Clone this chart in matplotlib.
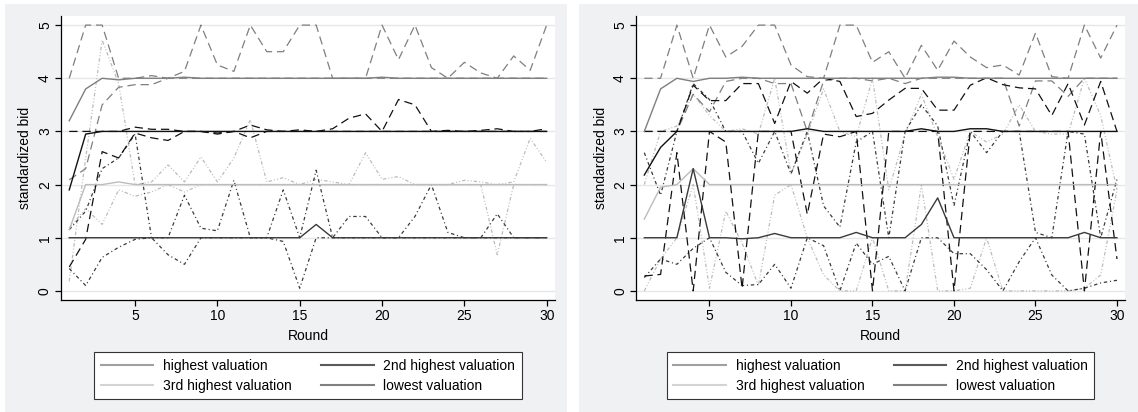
import matplotlib
matplotlib.use("Agg")
import matplotlib.pyplot as plt
from matplotlib.lines import Line2D
from matplotlib.patches import Rectangle

plt.rcParams['font.family'] = ['Liberation Sans', 'DejaVu Sans']
plt.rcParams['font.size'] = 10
plt.rcParams['lines.scale_dashes'] = False

rounds = list(range(1, 31))

# left panel: median, upper and lower bids per valuation rank
L_high_med = [3.2, 3.8, 4.0, 3.97, 4.0, 4.0, 4.0, 4.02, 4.0, 4.0, 4.0, 4.0, 4.0, 4.0, 4.0,
              4.0, 4.0, 4.0, 4.0, 4.02, 4.0, 4.0, 4.0, 4.0, 4.0, 4.0, 4.0, 4.0, 4.0, 4.0]
L_high_up = [4.0, 5.0, 5.0, 4.0, 4.0, 4.05, 4.0, 4.13, 5.0, 4.25, 4.13, 5.0, 4.5, 4.5, 5.0,
             5.0, 4.0, 4.0, 4.0, 5.0, 4.35, 5.0, 4.2, 4.0, 4.3, 4.1, 4.0, 4.42, 4.15, 5.0]
L_high_lo = [2.09, 2.3, 3.5, 3.83, 3.88, 3.88, 4.0, 4.0, 4.0, 4.0, 4.0, 4.0, 4.0, 4.0, 4.0,
             4.0, 4.0, 4.0, 4.0, 4.0, 4.0, 4.0, 4.0, 4.0, 4.0, 4.0, 4.0, 4.0, 4.0, 4.0]
L_2nd_med = [1.9, 2.95, 3.0, 3.0, 3.0, 3.0, 3.0, 3.0, 3.0, 3.0, 3.0, 3.0, 3.0, 3.0, 3.0,
             3.0, 3.0, 3.0, 3.0, 3.0, 3.0, 3.0, 3.0, 3.0, 3.0, 3.0, 3.0, 3.0, 3.0, 3.0]
L_2nd_up = [3.0, 3.0, 3.0, 3.0, 3.08, 3.04, 3.04, 3.0, 3.0, 2.97, 3.0, 3.12, 3.03, 3.0, 3.03,
            3.0, 3.05, 3.25, 3.33, 3.0, 3.6, 3.5, 3.0, 3.02, 3.0, 3.02, 3.05, 3.0, 3.0, 3.05]
L_2nd_lo = [0.45, 0.97, 2.62, 2.5, 2.97, 2.88, 2.83, 3.0, 3.0, 2.95, 3.0, 2.88, 3.0, 3.0, 3.0,
            3.0, 3.0, 3.0, 3.0, 3.0, 3.0, 3.0, 3.0, 3.0, 3.0, 3.0, 3.0, 3.0, 3.0, 3.0]
L_3rd_med = [1.15, 2.0, 2.0, 2.05, 2.0, 2.0, 2.0, 2.0, 2.0, 2.0, 2.0, 2.0, 2.0, 2.0, 2.0,
             2.0, 2.0, 2.0, 2.0, 2.0, 2.0, 2.0, 2.0, 2.0, 2.0, 2.0, 2.0, 2.0, 2.0, 2.0]
L_3rd_up = [0.18, 2.5, 4.72, 3.9, 2.0, 2.05, 2.37, 2.05, 2.52, 2.05, 2.5, 3.22, 2.05, 2.13, 2.0,
            2.1, 2.05, 2.0, 2.6, 2.1, 2.15, 2.0, 2.0, 2.0, 2.08, 2.05, 2.0, 2.05, 2.87, 2.42]
L_3rd_lo = [1.18, 1.55, 1.25, 1.9, 1.78, 1.86, 2.0, 1.86, 2.0, 2.0, 2.0, 2.0, 2.0, 2.0, 2.0,
            2.0, 2.0, 2.0, 2.0, 2.0, 2.0, 2.0, 2.0, 2.0, 2.0, 2.0, 0.68, 2.0, 2.0, 2.0]
L_low_med = [1.0, 1.0, 1.0, 1.0, 1.0, 1.0, 1.0, 1.0, 1.0, 1.0, 1.0, 1.0, 1.0, 1.0, 1.0,
             1.25, 1.0, 1.0, 1.0, 1.0, 1.0, 1.0, 1.0, 1.0, 1.0, 1.0, 1.0, 1.0, 1.0, 1.0]
L_low_up = [1.15, 1.5, 2.3, 2.5, 2.95, 1.0, 1.0, 1.8, 1.18, 1.13, 2.08, 1.0, 1.0, 1.9, 1.0,
            2.27, 1.0, 1.4, 1.4, 1.0, 1.0, 1.4, 2.0, 1.1, 1.0, 1.0, 1.45, 1.0, 1.0, 1.0]
L_low_lo = [0.42, 0.1, 0.63, 0.82, 0.97, 1.0, 0.68, 0.5, 1.0, 1.0, 1.0, 1.0, 1.0, 0.93, 0.05,
            1.0, 1.0, 1.0, 1.0, 1.0, 1.0, 1.0, 1.0, 1.0, 1.0, 1.0, 1.0, 1.0, 1.0, 1.0]

# right panel
R_high_med = [3.0, 3.8, 4.0, 3.94, 4.0, 4.0, 4.02, 4.0, 4.0, 4.0, 4.0, 4.0, 4.0, 4.0, 4.0,
              4.0, 4.0, 4.0, 4.02, 4.02, 4.0, 4.0, 4.0, 4.0, 4.0, 4.0, 4.0, 4.0, 4.0, 4.0]
R_high_up = [4.0, 4.0, 5.0, 4.0, 5.0, 4.4, 4.6, 5.0, 5.0, 4.25, 4.03, 4.0, 5.0, 5.0, 4.3,
             4.5, 4.0, 4.62, 4.15, 4.7, 4.4, 4.2, 4.25, 4.06, 4.85, 4.03, 4.0, 5.0, 4.38, 5.0]
R_high_lo = [3.0, 3.0, 3.0, 3.7, 3.37, 3.94, 4.0, 4.0, 3.9, 3.9, 3.0, 3.95, 4.0, 4.0, 3.95,
             4.0, 3.9, 4.0, 4.0, 4.0, 4.0, 4.0, 4.0, 3.1, 3.95, 3.95, 3.66, 4.0, 4.0, 4.0]
R_2nd_med = [2.18, 2.7, 3.0, 3.0, 3.0, 3.0, 3.0, 3.0, 3.0, 3.0, 3.05, 3.0, 3.0, 3.0, 3.0,
             3.0, 3.0, 3.05, 3.0, 3.0, 3.05, 3.05, 3.0, 3.0, 3.0, 3.0, 3.0, 3.0, 3.0, 3.0]
R_2nd_up = [3.0, 3.0, 3.0, 3.87, 3.58, 3.58, 3.9, 3.9, 3.15, 3.94, 3.72, 4.0, 3.94, 3.28, 3.34,
            3.59, 3.81, 3.81, 3.4, 3.4, 3.87, 4.01, 3.88, 3.82, 3.8, 3.3, 3.9, 3.12, 3.94, 3.0]
R_2nd_lo = [0.28, 0.31, 2.6, 0.0, 3.0, 2.8, 0.05, 3.0, 3.0, 3.0, 1.44, 2.95, 2.9, 3.0, 0.0,
            3.0, 3.0, 3.0, 3.0, 0.0, 3.0, 3.0, 3.0, 3.0, 3.0, 3.0, 3.0, 0.0, 3.0, 0.6]
R_3rd_med = [1.35, 1.95, 2.0, 2.3, 2.0, 2.0, 2.0, 2.0, 2.0, 2.0, 2.0, 2.0, 2.0, 2.0, 2.0,
             2.0, 2.0, 2.0, 2.0, 2.0, 2.0, 2.0, 2.0, 2.0, 2.0, 2.0, 2.0, 2.0, 2.0, 2.0]
R_3rd_up = [2.0, 3.0, 3.1, 3.7, 3.3, 3.0, 3.05, 2.95, 4.0, 2.2, 2.95, 3.8, 3.0, 2.9, 4.0,
            1.9, 2.95, 3.7, 2.9, 2.1, 3.0, 2.8, 2.95, 3.5, 3.0, 2.95, 2.95, 4.0, 3.3, 1.9]
R_3rd_lo = [0.0, 0.6, 1.0, 2.0, 0.05, 1.5, 0.9, 0.1, 1.8, 2.0, 1.0, 0.3, 0.0, 0.0, 1.0,
            0.0, 0.0, 2.0, 0.0, 0.0, 0.05, 1.0, 0.0, 0.0, 0.0, 0.0, 0.0, 0.05, 0.3, 1.9]
R_low_med = [1.0, 1.0, 1.0, 2.3, 1.0, 1.0, 0.98, 1.0, 1.08, 1.0, 1.0, 1.0, 1.0, 1.1, 1.0,
             1.0, 1.0, 1.25, 1.75, 1.0, 1.0, 1.0, 1.0, 1.0, 1.0, 1.0, 1.0, 1.1, 1.0, 1.0]
R_low_up = [2.6, 1.8, 3.0, 3.9, 3.6, 3.0, 3.0, 2.4, 3.0, 2.2, 3.0, 1.6, 1.2, 2.8, 3.0,
            1.0, 3.0, 3.5, 3.1, 1.6, 3.0, 2.6, 3.0, 3.0, 1.1, 1.0, 3.0, 2.95, 1.0, 2.1]
R_low_lo = [0.25, 0.6, 0.5, 0.8, 1.0, 0.35, 0.1, 0.12, 0.5, 0.05, 1.0, 0.85, 0.0, 0.9, 0.5,
            0.65, 0.0, 1.0, 1.0, 0.7, 0.7, 0.4, 0.0, 0.55, 1.0, 0.3, 0.0, 0.05, 0.15, 0.2]

names = ["highest valuation", "2nd highest valuation", "3rd highest valuation", "lowest valuation"]
colors = ['#7f7f7f', '#111111', '#bcbcbc', '#3a3a3a']
legend_colors = ['#a0a0a0', '#5a5a5a', '#d4d4d4', '#808080']
band_styles = [(0, (6, 3.5)), (0, (6, 3.5)),
               (0, (2.5, 1.5, 0.7, 1.5, 0.7, 1.5)), (0, (2.5, 2, 0.8, 2))]


def draw_panel(ax, meds, ups, los):
    # bands first (dotted ones at the bottom), then medians on top
    for i in [2, 3, 0, 1]:
        ax.plot(rounds, ups[i], color=colors[i], ls=band_styles[i], lw=0.9)
        ax.plot(rounds, los[i], color=colors[i], ls=band_styles[i], lw=0.9)
    for i in range(4):
        ax.plot(rounds, meds[i], color=colors[i], lw=1.0)
    ax.set_xlim(0.5, 30.5)
    ax.set_ylim(-0.17, 5.17)
    ax.set_xticks([5, 10, 15, 20, 25, 30])
    ax.set_yticks([0, 1, 2, 3, 4, 5])
    ax.set_yticklabels(['0', '1', '2', '3', '4', '5'], rotation=90, va='center')
    ax.yaxis.grid(True, color='#e6e6e6', lw=1.0)
    ax.set_axisbelow(True)
    for s in ['top', 'right']:
        ax.spines[s].set_visible(False)
    for s in ['left', 'bottom']:
        ax.spines[s].set_linewidth(0.9)
    ax.tick_params(length=4.5, width=0.9, pad=2)
    ax.set_xlabel("Round", labelpad=4)
    ax.set_ylabel("standardized bid", labelpad=4)
    handles = [Line2D([], [], color=legend_colors[i], lw=1.5) for i in [0, 2, 1, 3]]
    labels = [names[i] for i in [0, 2, 1, 3]]
    leg = ax.legend(handles, labels, ncol=2, loc='upper center', bbox_to_anchor=(0.5, -0.16),
                    frameon=True, fancybox=False, framealpha=1, edgecolor='#333333',
                    handlelength=3.8, handletextpad=0.7, columnspacing=2.1,
                    labelspacing=0.45, borderpad=0.45)
    leg.get_frame().set_linewidth(0.8)


fig = plt.figure(figsize=(11.38, 4.12), dpi=100)
fig.patches.append(Rectangle((5 / 1138, 0), 562 / 1138, 408 / 412, transform=fig.transFigure,
                             facecolor='#eff1f3', edgecolor='none', zorder=-10))
fig.patches.append(Rectangle((579 / 1138, 0), 559 / 1138, 408 / 412, transform=fig.transFigure,
                             facecolor='#eff1f3', edgecolor='none', zorder=-10))

ax1 = fig.add_axes([0.0536, 0.272, 0.434, 0.689])
ax2 = fig.add_axes([0.559, 0.272, 0.4297, 0.689])

draw_panel(ax1, [L_high_med, L_2nd_med, L_3rd_med, L_low_med],
           [L_high_up, L_2nd_up, L_3rd_up, L_low_up],
           [L_high_lo, L_2nd_lo, L_3rd_lo, L_low_lo])
draw_panel(ax2, [R_high_med, R_2nd_med, R_3rd_med, R_low_med],
           [R_high_up, R_2nd_up, R_3rd_up, R_low_up],
           [R_high_lo, R_2nd_lo, R_3rd_lo, R_low_lo])

fig.savefig("out.png", dpi=100)
